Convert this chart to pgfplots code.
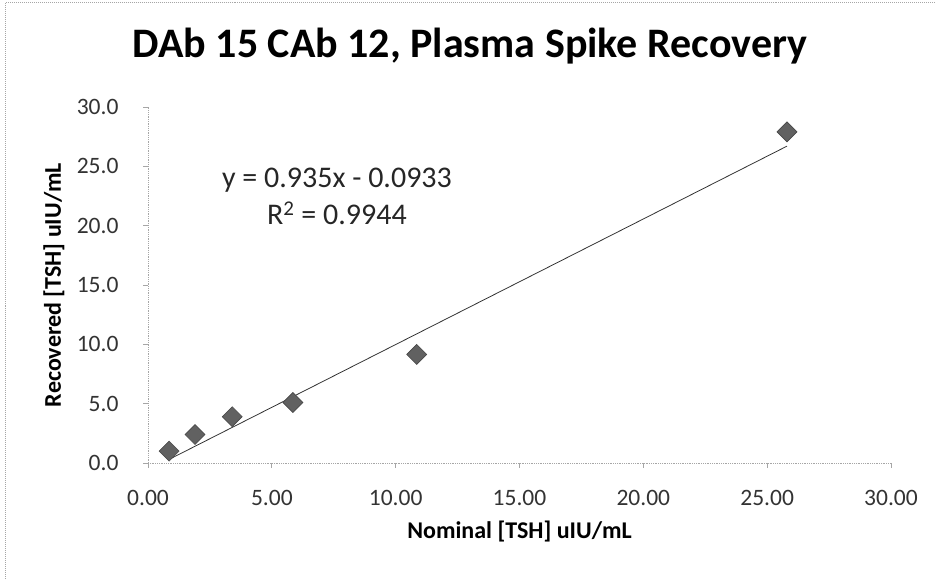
\documentclass[border=0pt]{standalone}
\usepackage{pgfplots}
\pgfplotsset{compat=1.18}
\usepackage{fontspec}
\setmainfont{Carlito}
\begin{document}
\begin{tikzpicture}[x=1bp,y=1bp]
\useasboundingbox (0,0) rectangle (936,579);
% chart area frame (left and top visible)
\draw[gray!70, densely dotted, line width=1bp] (5,0) -- (5,576) -- (936,576);
\node[font=\fontsize{42bp}{48bp}\selectfont\bfseries] at (470,533) {DAb 15 CAb 12, Plasma Spike Recovery};
\begin{axis}[
  at={(148bp,116bp)}, anchor=origin,
  scale only axis, width=743bp, height=356bp,
  xmin=0, xmax=30, ymin=0, ymax=30,
  xtick={0,5,...,30}, ytick={0,5,...,30},
  axis x line*=bottom, axis y line*=left,
  axis line style={gray!70, densely dotted, line width=0.8bp, -},
  tick style={gray!70, line width=0.8bp, solid},
  xtick align=outside, ytick align=outside,
  major tick length=5bp,
  tick label style={font=\fontsize{23.5bp}{27bp}\selectfont, text=black!80},
  /pgf/number format/assume math mode=true,
  xticklabel={\pgfmathprintnumber[fixed,fixed zerofill,precision=2]{\tick}},
  yticklabel={\pgfmathprintnumber[fixed,fixed zerofill,precision=1]{\tick}},
  xticklabel style={yshift=-19bp},
  yticklabel style={xshift=-21bp},
  xlabel={Nominal [TSH] uIU/mL},
  label style={font=\fontsize{24bp}{28bp}\selectfont\bfseries},
  xlabel style={at={(axis description cs:0.5,0)}, anchor=center, yshift=-69bp},
  clip=false,
]
\addplot[black!80, line width=0.8bp] coordinates {(0.85,0.3) (25.8,26.7)};
\addplot[only marks, mark=square*, mark size=7.07bp,
  mark options={fill=black!62, draw=black!72, line width=0.6bp, rotate=45}]
  coordinates {(0.85,1.0) (1.9,2.4) (3.4,3.9) (5.85,5.1) (10.85,9.15) (25.8,27.9)};
\node[font=\fontsize{30bp}{37bp}\selectfont, align=center, text=black!85] at (axis cs:7.63,22.5)
  {y = 0.935x - 0.0933\\R\textsuperscript{2} = 0.9944};
\node[rotate=90, font=\fontsize{24bp}{28bp}\selectfont\bfseries] at (axis cs:-3.8,15)
  {Recovered [TSH] uIU/mL};
\end{axis}
\end{tikzpicture}
\end{document}
